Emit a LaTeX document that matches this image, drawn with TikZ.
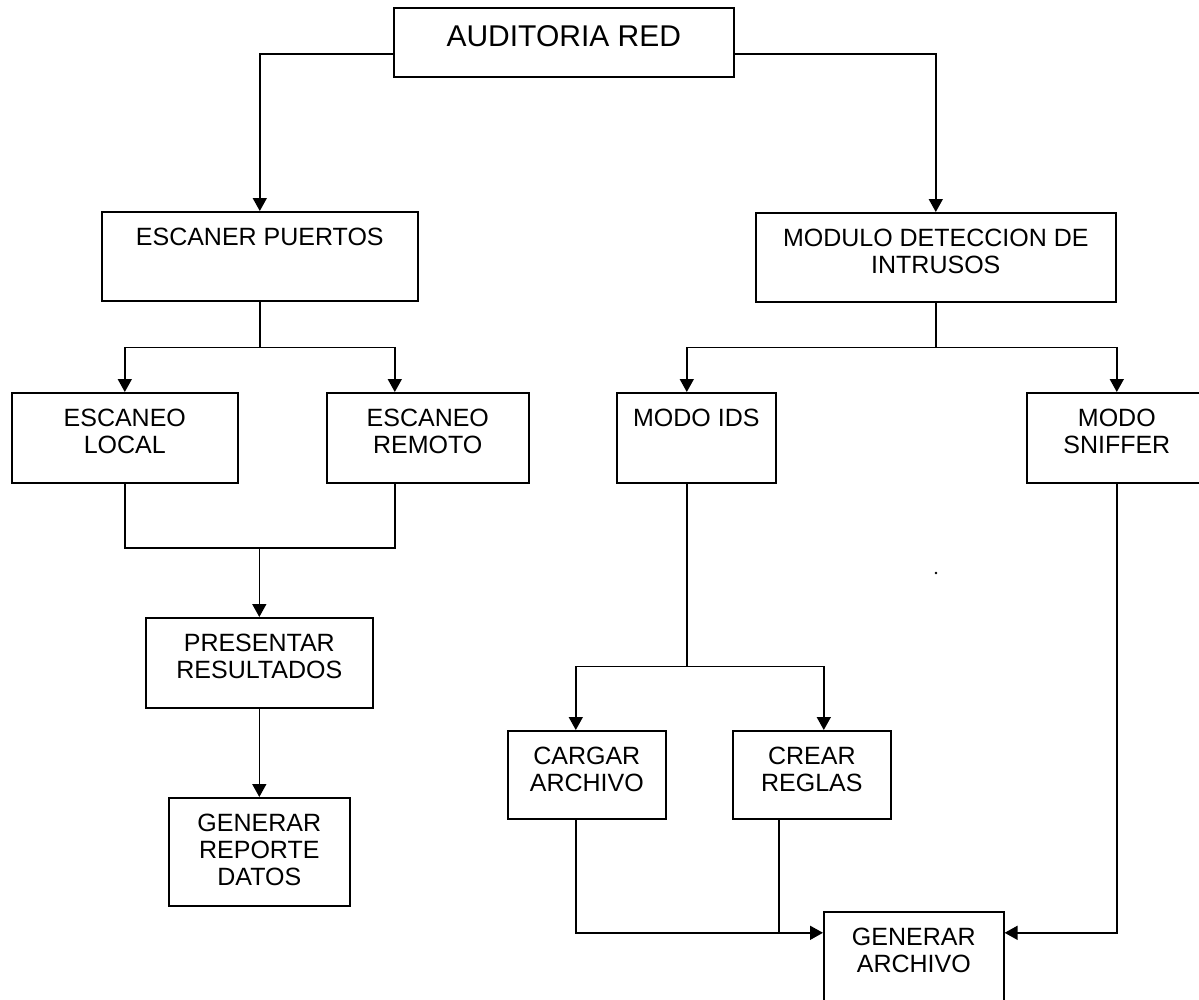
\documentclass[tikz,border=0pt]{standalone}
\usepackage{fontspec}
\setmainfont{Liberation Sans}
\usetikzlibrary{arrows.meta}

\tikzset{
  box/.style={draw, line width=1.6pt, inner sep=0pt, anchor=north west},
  lbl/.style={inner sep=0pt, align=center, anchor=north, yshift=-16.5pt,
              font=\fontsize{25}{27}\selectfont},
  title/.style={inner sep=0pt, anchor=north, yshift=-18pt,
              font=\fontsize{30}{34}\selectfont},
  wire/.style={line width=1.6pt},
  arr/.style={wire, -{Triangle[length=13pt,width=14pt]}},
}

% box from corner (x1,y1) to (x2,y2), y growing downwards
\newcommand{\boxat}[5]{%
  \node[box, minimum width={(#4-#2)*1pt}, minimum height={(#5-#3)*1pt}] (#1) at (#2,#3) {};}

\begin{document}
\begin{tikzpicture}[x=1pt,y=-1pt]
\useasboundingbox (0,0) rectangle (1199,999);
\begin{scope}
\clip (0,0) rectangle (1199,999);

% boxes
\boxat{aud}{393}{7}{733}{76}
\boxat{esc}{101}{211}{417}{300}
\boxat{mod}{755}{212}{1115}{301}
\boxat{loc}{11}{392}{237}{482}
\boxat{rem}{326}{392}{528}{482}
\boxat{ids}{616}{392}{775}{482}
\boxat{snf}{1026}{392}{1206}{482}
\boxat{pre}{145}{617}{372}{707}
\boxat{rep}{168}{797}{349}{905}
\boxat{car}{507}{730}{665}{818}
\boxat{cre}{732}{730}{890}{818}
\boxat{gen}{823}{911}{1003}{1010}

% labels
\node[title] (aud-t) at (aud.north) {AUDITORIA RED};
\node[lbl] (esc-t) at (esc.north) {ESCANER PUERTOS};
\node[lbl] (mod-t) at (mod.north) {MODULO DETECCION DE\\INTRUSOS};
\node[lbl] (loc-t) at (loc.north) {ESCANEO\\LOCAL};
\node[lbl] (rem-t) at (rem.north) {ESCANEO\\REMOTO};
\node[lbl] (ids-t) at (ids.north) {MODO IDS};
\node[lbl] (snf-t) at (snf.north) {MODO\\SNIFFER};
\node[lbl] (pre-t) at (pre.north) {PRESENTAR\\RESULTADOS};
\node[lbl] (rep-t) at (rep.north) {GENERAR\\REPORTE\\DATOS};
\node[lbl] (car-t) at (car.north) {CARGAR\\ARCHIVO};
\node[lbl] (cre-t) at (cre.north) {CREAR\\REGLAS};
\node[lbl] (gen-t) at (gen.north) {GENERAR\\ARCHIVO};

% top level
\draw[arr] ([yshift=-11.5pt]aud.west) -| (esc.north);
\draw[arr] ([yshift=-11.5pt]aud.east) -| (mod.north);

% port scanner branch
\coordinate (remIn) at ([xshift=-33pt]rem.north);
\coordinate (remOut) at ([xshift=-33pt]rem.south);
\draw[wire] (esc.south) -- ++(0,46) coordinate (e1);
\draw[arr] (e1) -| (loc.north);
\draw[arr] (e1) -| (remIn);
\coordinate (j2) at (pre.north |- 0,548);
\draw[wire] (loc.south) |- (j2) -| (remOut);
\draw[arr] (j2) -- (pre.north);
\draw[arr] (pre.south) -- (rep.north);

% intrusion detection branch
\coordinate (idsIn) at ([xshift=-9.5pt]ids.north);
\coordinate (idsOut) at ([xshift=-9.5pt]ids.south);
\draw[wire] (mod.south) -- ++(0,45) coordinate (m1);
\draw[arr] (m1) -| (idsIn);
\draw[arr] (m1) -| (snf.north);
\draw[wire] (idsOut) -- ++(0,183) coordinate (i1);
\coordinate (carIn) at ([xshift=-11pt]car.north);
\coordinate (carOut) at ([xshift=-11pt]car.south);
\coordinate (creIn) at ([xshift=12pt]cre.north);
\coordinate (creOut) at ([xshift=-33pt]cre.south);
\draw[arr] (i1) -| (carIn);
\draw[arr] (i1) -| (creIn);

% file generation
\coordinate (gIn) at ([yshift=28.5pt]gen.west);
\coordinate (gIn2) at ([yshift=28.5pt]gen.east);
\draw[arr] (carOut) |- (gIn);
\draw[wire] (creOut) -- (creOut |- gIn);
\draw[arr] (snf.south) |- (gIn2);

% stray dot
\fill (936,573) circle (1.3pt);
\end{scope}
\end{tikzpicture}
\end{document}
